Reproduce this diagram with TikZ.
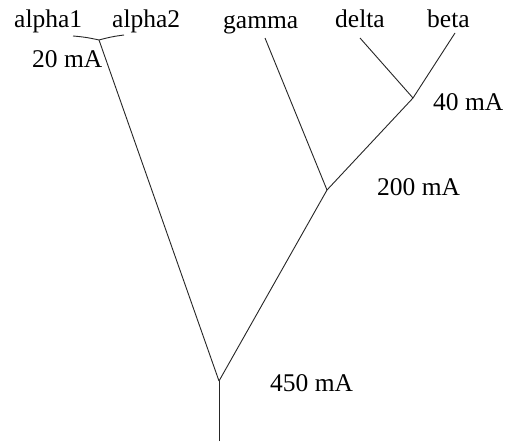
\documentclass[tikz,border=0pt]{standalone}
\usepackage{fontspec}
\setmainfont{Liberation Serif}
\begin{document}
\begin{tikzpicture}[x=1pt,y=-1pt,
  lbl/.style={anchor=base west,inner sep=0pt,font=\fontsize{25.5}{25.5}\selectfont},
  br/.style={draw=black!85,line width=0.9pt}]
\useasboundingbox[fill=white] (0,0) rectangle (530,442);
% junctions
\coordinate (root) at (219,441);
\coordinate (j450) at (219,381);
\coordinate (j200) at (327,190);
\coordinate (j40) at (413,98);
\coordinate (j20) at (99,40);
\coordinate (ea1) at (73,36);
\coordinate (ea2) at (124,35);
\coordinate (eg) at (265,38);
\coordinate (ed) at (360,38);
\coordinate (eb) at (455,33);
% labels
\node[lbl] (alpha1) at (14,27) {alpha1};
\node[lbl] (alpha2) at (112,27) {alpha2};
\node[lbl] (gamma) at (223,28) {gamma};
\node[lbl] (delta) at (335,27) {delta};
\node[lbl] (beta) at (427,27) {beta};
\node[lbl] (l20) at (32,67) {20 mA};
\node[lbl] (l40) at (433,110) {40 mA};
\node[lbl] (l200) at (377,195) {200 mA};
\node[lbl] (l450) at (270,391) {450 mA};
% branches
\draw[br] (root) -- (j450);
\draw[br] (j450) -- (j20);
\draw[br] (j450) -- (j200);
\draw[br] (j200) -- (eg);
\draw[br] (j200) -- (j40);
\draw[br] (j40) -- (ed);
\draw[br] (j40) -- (eb);
\draw[br] (ea1) to[bend left=4] (j20);
\draw[br] (j20) to[bend left=4] (ea2);
\end{tikzpicture}
\end{document}
